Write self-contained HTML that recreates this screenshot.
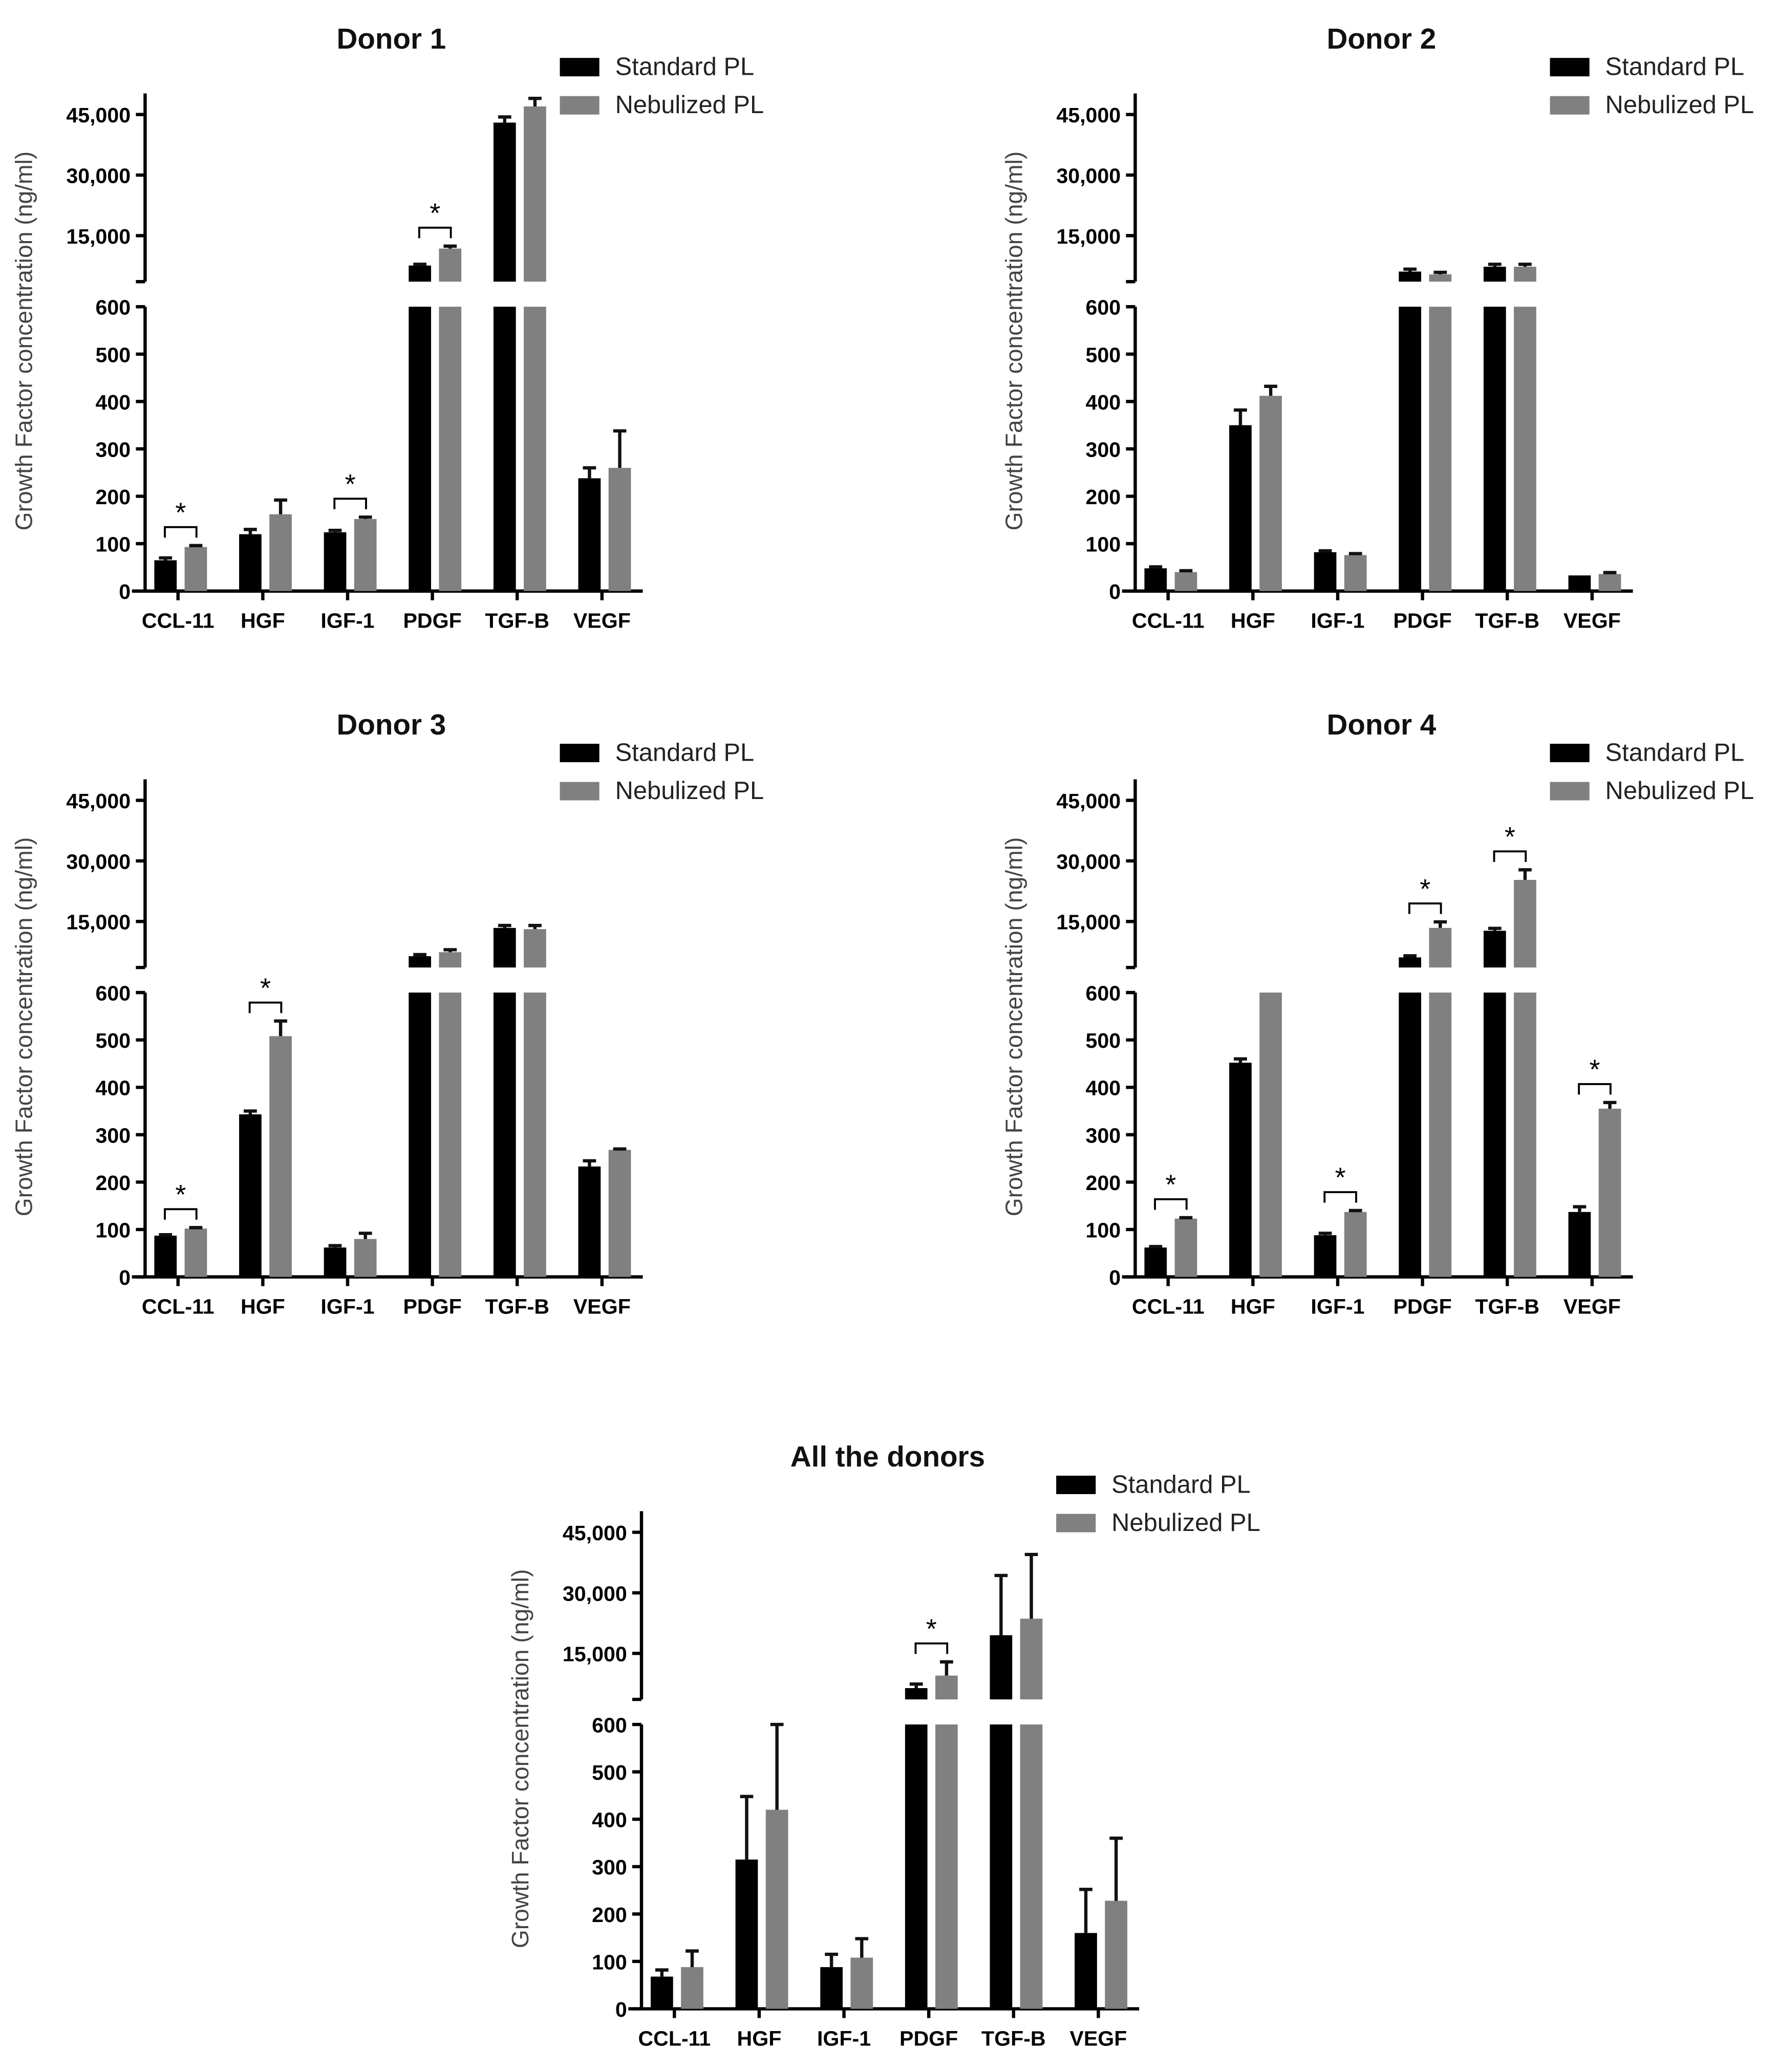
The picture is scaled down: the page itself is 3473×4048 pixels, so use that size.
<!DOCTYPE html>
<html><head><meta charset="utf-8"><style>
html,body{margin:0;padding:0;background:#fff}
svg{display:block}
text{font-family:"Liberation Sans",Arial,sans-serif}
</style></head><body>
<svg id="chart" xmlns="http://www.w3.org/2000/svg" width="3473" height="4048" viewBox="0 0 1350 1574"></svg>
<script>
const categories = ["CCL-11","HGF","IGF-1","PDGF","TGF-B","VEGF"];
const panelTitles = ["Donor 1","Donor 2","Donor 3","Donor 4","All the donors"];
const upperTicks = [45000, 30000, 15000];
const lowerTicks = [0,100,200,300,400,500,600];
const upperTickLabels = ["45,000","30,000","15,000"];
// values per panel: [CCL-11,HGF,IGF-1,PDGF,TGF-B,VEGF]
const stdValues = [
  [65,120,124,7600,43000,238],
  [48,350,82,6100,7300,33],
  [87,343,62,6400,13400,233],
  [62,452,88,6100,12700,137],
  [68,315,88,6400,19500,160]
];
const stdErrors = [
  [70,130,128,7900,44400,260],
  [51,382,85,6700,7900,33],
  [89,350,66,6800,14000,245],
  [64,460,92,6500,13300,148],
  [82,448,115,7400,34300,252]
];
const nebValues = [
  [93,162,152,11800,47000,260],
  [40,412,76,5400,7300,36],
  [102,508,80,7400,13100,268],
  [123,600,137,13400,25300,355],
  [88,420,108,9500,23600,228]
];
const nebErrors = [
  [96,192,156,12400,49000,338],
  [43,432,79,5900,7900,39],
  [104,540,92,8000,14000,270],
  [125,600,140,14900,27800,368],
  [122,600,148,12900,39500,360]
];
const significant = [
  [0,2,3],
  [],
  [0,1],
  [0,2,3,4,5],
  [3]
];

const NS="http://www.w3.org/2000/svg";
const svg=document.getElementById('chart');
function mk(tag,attrs,parent){const e=document.createElementNS(NS,tag);for(const k in attrs)e.setAttribute(k,attrs[k]);(parent||svg).appendChild(e);return e;}

const origins=[[110,449],[862,449],[110,970],[862,970],[487,1526]];
const UP_MIN=3600;
function yLow(v){return -Math.min(v,600)*0.36;}
function yUp(v){return -270-(v-15000)/15000*46;}
const yBreakBottom=yUp(UP_MIN), yLowTop=yLow(600), yAxisTop=-378;
function xCat(i){return 25+i*64.4;}

origins.forEach((o,p)=>{
  const g=mk('g',{transform:`translate(${o[0]},${o[1]})`});
  
  
  const t=mk('text',{x:187,y:-412,'text-anchor':'middle','font-size':22,'font-weight':'bold',fill:'#111'},g);
  t.textContent=panelTitles[p];
  
  
  [['Standard PL','#000',-398],['Nebulized PL','#808080',-369]].forEach((L,k)=>{
    const r=mk('rect',{x:315,y:L[2]-7,width:30,height:14,fill:L[1]},g);
    
    
    const lt=mk('text',{x:357,y:L[2]+6,'font-size':19,fill:'#222'},g);
    lt.textContent=L[0];
    
    
  });
  const yt=mk('text',{transform:`translate(${-86},${-190}) rotate(-90)`,'text-anchor':'middle','font-size':18,fill:'#444'},g);
  yt.textContent='Growth Factor concentration (ng/ml)';
  
  
  const ax=mk('path',{d:`M0,${yAxisTop}V${yBreakBottom}M-7,${yBreakBottom}H0M0,${yLowTop}V0M-10,0H378`,stroke:'#000','stroke-width':2.5,fill:'none'},g);
  
  
  upperTicks.forEach((v,k)=>{
    mk('line',{x1:-7,x2:0,y1:yUp(v),y2:yUp(v),stroke:'#000','stroke-width':2.5},g);
    const tl=mk('text',{x:-11,y:yUp(v)+6,'text-anchor':'end','font-size':16,'font-weight':'bold'},g);
    tl.textContent=upperTickLabels[k];
    
    
  });
  lowerTicks.forEach(v=>{
    mk('line',{x1:-7,x2:0,y1:yLow(v),y2:yLow(v),stroke:'#000','stroke-width':2.5},g);
    const tl=mk('text',{x:-11,y:yLow(v)+6,'text-anchor':'end','font-size':16,'font-weight':'bold'},g);
    tl.textContent=String(v);
    
    
  });
  categories.forEach((c,i)=>{
    const cx=xCat(i);
    mk('line',{x1:cx,x2:cx,y1:0,y2:7,stroke:'#000','stroke-width':2.5},g);
    const xl=mk('text',{x:cx,y:28,'text-anchor':'middle','font-size':16,'font-weight':'bold'},g);
    xl.textContent=c;
    
    
    [[stdValues[p][i],stdErrors[p][i],'#000',cx-18,'standard'],[nebValues[p][i],nebErrors[p][i],'#808080',cx+5,'nebulized']].forEach(B=>{
      const v=B[0],e=B[1],x=B[3],w=17,col=B[2];
      const top=yLow(v);
      const r=mk('rect',{x:x,y:top,width:w,height:-top,fill:col},g);
      
      
      let etop, ebase;
      if(v>UP_MIN){
        const ut=yUp(v);
        const r2=mk('rect',{x:x,y:ut,width:w,height:yBreakBottom-ut,fill:col},g);
        
        
        ebase=ut; etop=yUp(e);
      } else if(v<600){ ebase=top; etop=yLow(e); }
      if(etop!==undefined && etop<ebase){
        const cxb=x+w/2;
        mk('path',{d:`M${cxb},${ebase}V${etop}M${cxb-5},${etop}H${cxb+5}`,stroke:'#111','stroke-width':2.5,fill:'none'},g);
      }
    });
  });
  significant[p].forEach(i=>{
    const cx=xCat(i);
    const e1=stdErrors[p][i], e2=nebErrors[p][i];
    const tp=(e)=> e>UP_MIN? yUp(e) : yLow(e);
    const ytop=Math.min(tp(e1),tp(e2))-14;
    const b=mk('path',{d:`M${cx-10},${ytop+8}V${ytop}H${cx+14}V${ytop+8}`,stroke:'#000','stroke-width':1.5,fill:'none'},g);
    
    
    const s=mk('text',{x:cx+2,y:ytop-4,'text-anchor':'middle','font-size':21,fill:'#000'},g);
    s.textContent='*';
    
    
  });
});
</script>
</body></html>
